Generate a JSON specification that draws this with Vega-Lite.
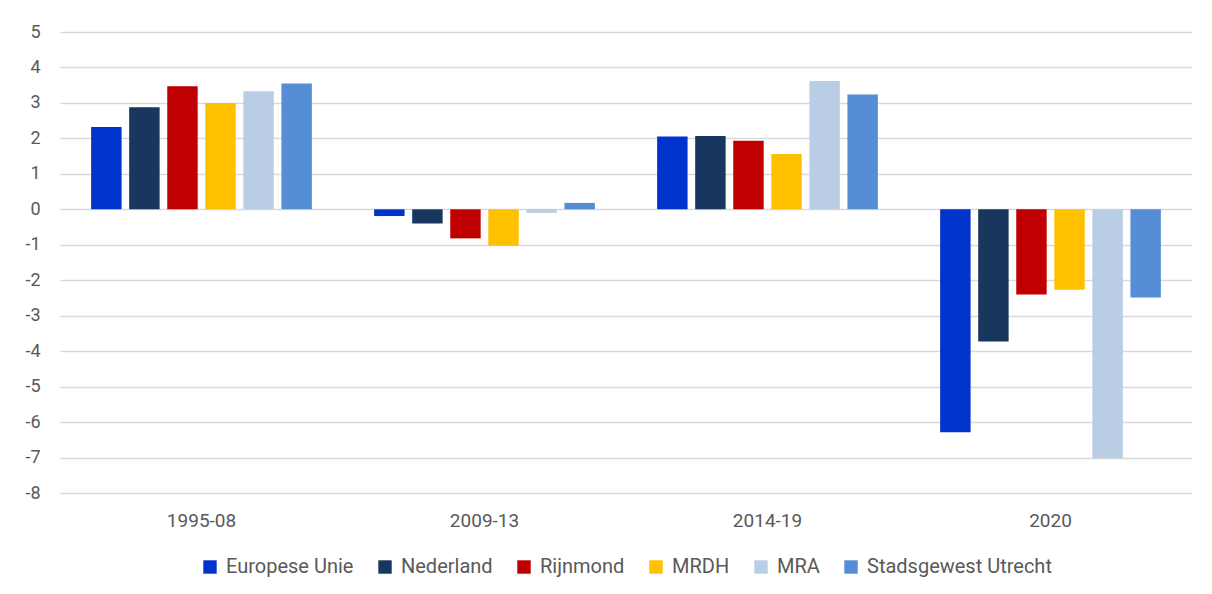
{
  "$schema": "https://vega.github.io/schema/vega-lite/v6.json",
  "width": 1132,
  "height": 461,
  "autosize": {"type": "none"},
  "padding": {"left": 60, "top": 32, "right": 20, "bottom": 101},
  "background": "white",
  "data": {"values": [
    {"periode": "1995-08", "regio": "Europese Unie", "groei": 2.32},
    {"periode": "1995-08", "regio": "Nederland", "groei": 2.88},
    {"periode": "1995-08", "regio": "Rijnmond", "groei": 3.47},
    {"periode": "1995-08", "regio": "MRDH", "groei": 3.0},
    {"periode": "1995-08", "regio": "MRA", "groei": 3.33},
    {"periode": "1995-08", "regio": "Stadsgewest Utrecht", "groei": 3.55},
    {"periode": "2009-13", "regio": "Europese Unie", "groei": -0.19},
    {"periode": "2009-13", "regio": "Nederland", "groei": -0.4},
    {"periode": "2009-13", "regio": "Rijnmond", "groei": -0.82},
    {"periode": "2009-13", "regio": "MRDH", "groei": -1.03},
    {"periode": "2009-13", "regio": "MRA", "groei": -0.1},
    {"periode": "2009-13", "regio": "Stadsgewest Utrecht", "groei": 0.18},
    {"periode": "2014-19", "regio": "Europese Unie", "groei": 2.05},
    {"periode": "2014-19", "regio": "Nederland", "groei": 2.07},
    {"periode": "2014-19", "regio": "Rijnmond", "groei": 1.93},
    {"periode": "2014-19", "regio": "MRDH", "groei": 1.56},
    {"periode": "2014-19", "regio": "MRA", "groei": 3.62},
    {"periode": "2014-19", "regio": "Stadsgewest Utrecht", "groei": 3.24},
    {"periode": "2020", "regio": "Europese Unie", "groei": -6.29},
    {"periode": "2020", "regio": "Nederland", "groei": -3.73},
    {"periode": "2020", "regio": "Rijnmond", "groei": -2.4},
    {"periode": "2020", "regio": "MRDH", "groei": -2.27},
    {"periode": "2020", "regio": "MRA", "groei": -7.02},
    {"periode": "2020", "regio": "Stadsgewest Utrecht", "groei": -2.49}
  ]},
  "mark": {"type": "bar"},
  "encoding": {
    "x": {
      "field": "periode", "type": "nominal", "title": null,
      "scale": {"paddingInner": 0.22, "paddingOuter": 0.11},
      "axis": {"labelAngle": 0, "domain": false, "ticks": false, "labelPadding": 18, "labelFontSize": 19, "labelColor": "#595959", "labelFont": "Roboto"}
    },
    "xOffset": {
      "field": "regio", "type": "nominal",
      "sort": ["Europese Unie", "Nederland", "Rijnmond", "MRDH", "MRA", "Stadsgewest Utrecht"],
      "scale": {"paddingInner": 0.2, "paddingOuter": 0}
    },
    "y": {
      "field": "groei", "type": "quantitative", "title": null,
      "scale": {"domain": [-8, 5], "nice": false, "zero": false},
      "axis": {"values": [-8,-7,-6,-5,-4,-3,-2,-1,0,1,2,3,4,5], "labelExpr": "datum.value + ''", "domain": false, "ticks": false, "labelPadding": 20, "labelFontSize": 18, "labelColor": "#595959", "labelFont": "Roboto", "gridColor": "#d9d9d9", "gridWidth": 1.5}
    },
    "color": {
      "field": "regio", "type": "nominal",
      "sort": ["Europese Unie", "Nederland", "Rijnmond", "MRDH", "MRA", "Stadsgewest Utrecht"],
      "scale": {
        "domain": ["Europese Unie", "Nederland", "Rijnmond", "MRDH", "MRA", "Stadsgewest Utrecht"],
        "range": ["#0033cc", "#17375e", "#c00000", "#ffc000", "#b9cde5", "#558ed5"]
      },
      "legend": {
        "title": null, "orient": "bottom", "direction": "horizontal", "columns": 6,
        "symbolType": "square", "symbolSize": 180, "symbolStrokeWidth": 0, "symbolOffset": 0,
        "labelFontSize": 20, "labelColor": "#595959", "labelFont": "Roboto", "labelLimit": 400, "labelOffset": 6,
        "columnPadding": 21, "offset": 27
      }
    }
  },
  "config": {
    "view": {"stroke": null},
    "legend": {"layout": {"bottom": {"anchor": "middle"}}}
  }
}
